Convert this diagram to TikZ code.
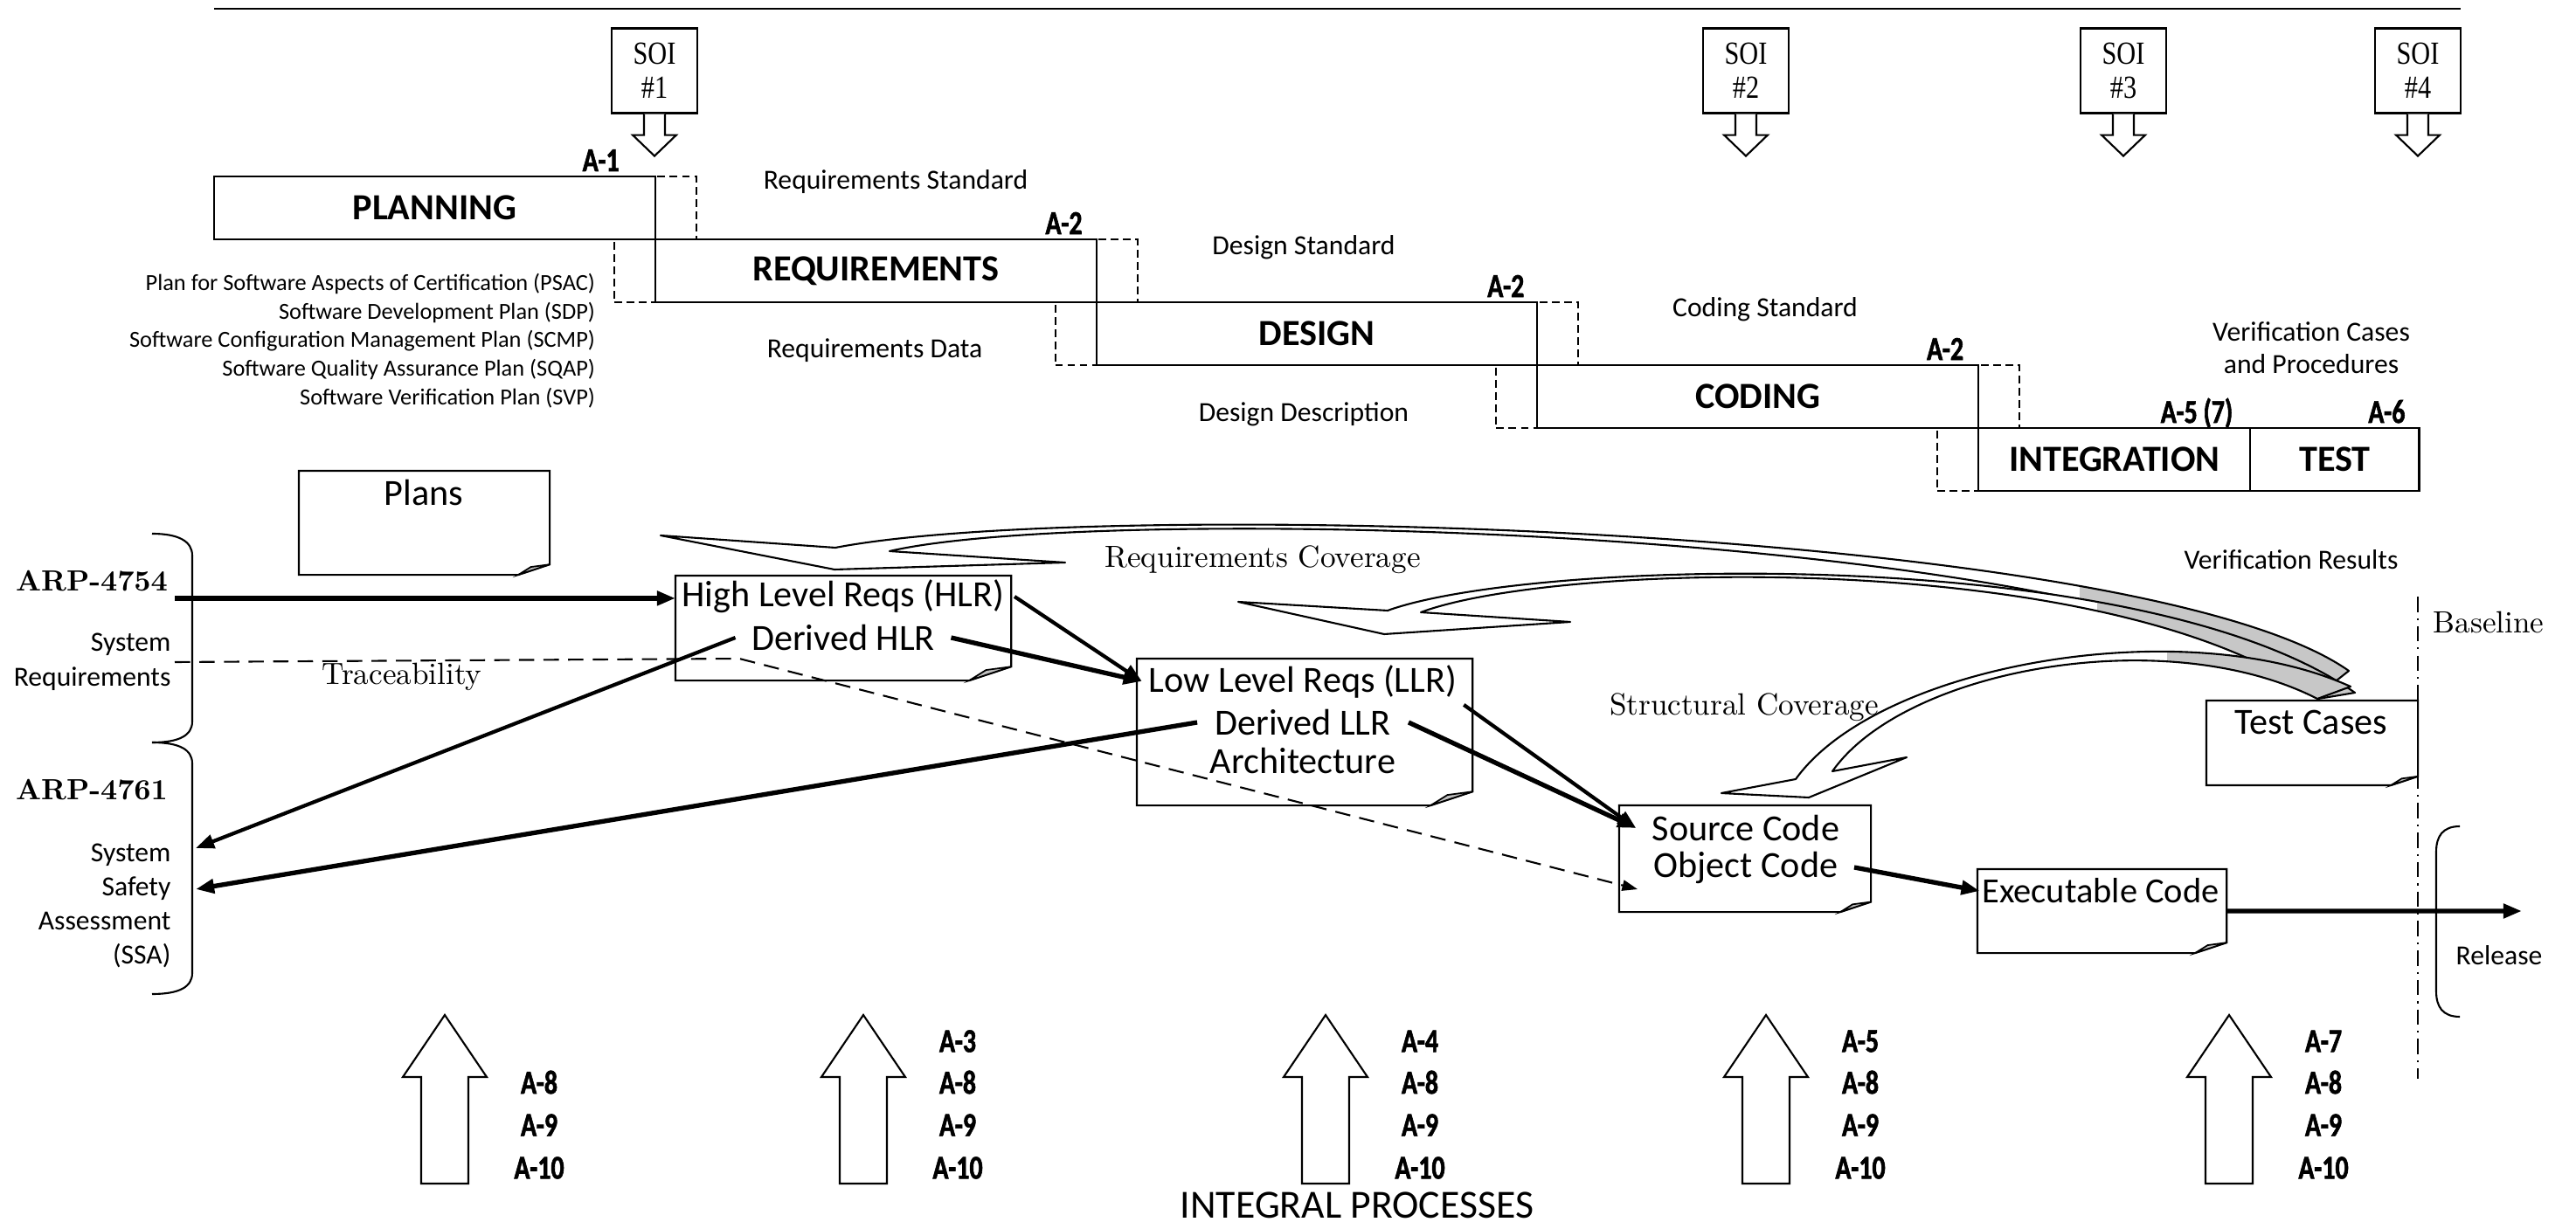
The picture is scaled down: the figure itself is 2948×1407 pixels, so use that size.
\documentclass[tikz,border=0pt]{standalone}
\usepackage{fontspec}
\setsansfont{Carlito}
\renewcommand{\familydefault}{\sfdefault}
\newfontfamily\alabelfont{Carlito}[FakeStretch=0.78,FakeBold=1.5]
\newfontfamily\soifont{Liberation Serif}[FakeStretch=0.82]
\usetikzlibrary{arrows.meta, positioning, calc}

\tikzset{%
	phase/.style={
		draw,
		minimum width=5.045cm,
		minimum height=0.72cm,
		inner sep=0pt, outer sep=0pt,
		font=\fontsize{12}{14}\selectfont\bfseries
	},
	stub/.style={
		draw, dash pattern=on 2.5pt off 1.5pt,
		minimum width=0.47cm,
		minimum height=0.72cm,
		inner sep=0pt, outer sep=0pt
	},
	alabel/.style={inner sep=0pt, font=\alabelfont\fontsize{10.9}{13}\selectfont\bfseries},
	soibox/.style={
		draw, fill=white,
		minimum width=0.98cm,
		minimum height=0.97cm,
		inner sep=0pt, align=center,
		font=\soifont\fontsize{10.5}{11}\selectfont
	},
	note/.style={inner sep=1pt, font=\fontsize{9}{10.5}\selectfont},
	serif/.style={inner sep=1pt, font=\rmfamily\fontsize{10}{12}\selectfont},
	doc/.style={anchor=north west, inner sep=0pt, outer sep=0pt},
	doctext/.style={inner sep=1pt, font=\fontsize{12}{14}\selectfont},
	arr/.style={line width=1.2pt, -{Triangle[length=6pt, width=4.5pt]}},
	thickarr/.style={arr, line width=1.5pt},
	trace/.style={line width=0.6pt, dash pattern=on 5pt off 3pt, -{Triangle[length=5pt, width=3.5pt]}},
	dashdot rule/.style={line width=0.5pt, dash pattern=on 5pt off 2pt on 0.6pt off 2pt},
}

% document with a curled corner, drawn round a named node
\newcommand\pagecurl[2]{%
	\draw (#1.south west) -- (#1.north west) -- (#1.north east)
		-- ($(#1.south east)+(0,-0.33*#2)$) -- ($(#1.south east)+(-#2,0)$) -- cycle;
	\draw[line width=0.5pt, fill=black!25] ($(#1.south east)+(-#2,0)$)
		-- ($(#1.south east)+(-0.6*#2,-0.25*#2)$) -- ($(#1.south east)+(0,-0.33*#2)$) -- cycle;
}

% curved block arrow, grey towards its tail
\newcommand\coverarrow[2]{%
	\fill[white] #1;
	\begin{scope}
		\clip (#2,560) rectangle (2800,830);
		\fill[black!22] #1;
	\end{scope}
	\draw[line join=round] #1;
}

\begin{document}
\begin{tikzpicture}[x=0.01cm, y=-0.01cm, line width=0.6pt]
	\useasboundingbox (0,0) rectangle (2948,1407);
	
	% top rule
	\draw[line width=0.8pt] (245,10) -- (2816,10);
	
	% life cycle phases
	\node[phase, anchor=north west] (planning) at (245,202) {PLANNING};
	\node[phase, anchor=north west] (requirements) at (planning.south east) {REQUIREMENTS};
	\node[phase, anchor=north west] (design) at (requirements.south east) {DESIGN};
	\node[phase, anchor=north west] (coding) at (design.south east) {CODING};
	\node[phase, anchor=north west, minimum width=3.11cm] (integration) at (coding.south east) {INTEGRATION};
	\node[phase, minimum width=1.93cm, right=0cm of integration] (test) {TEST};
	
	% dashed overlaps
	\node[stub, anchor=north west] (planR) at (planning.north east) {};
	\node[stub, anchor=north east] (reqL) at (requirements.north west) {};
	\node[stub, anchor=north west] (reqR) at (requirements.north east) {};
	\node[stub, anchor=north east] (desL) at (design.north west) {};
	\node[stub, anchor=north west] (desR) at (design.north east) {};
	\node[stub, anchor=north east] (codL) at (coding.north west) {};
	\node[stub, anchor=north west] (codR) at (coding.north east) {};
	\node[stub, anchor=north east] (intL) at (integration.north west) {};
	
	% objectives tables
	\node[alabel, anchor=base east] (a1) at ([xshift=-0.40cm, yshift=0.06cm]planning.north east) {A-1};
	\node[alabel, anchor=base east] (a2req) at ([xshift=-0.15cm, yshift=0.06cm]requirements.north east) {A-2};
	\node[alabel, anchor=base east] (a2des) at ([xshift=-0.14cm, yshift=0.06cm]design.north east) {A-2};
	\node[alabel, anchor=base east] (a2cod) at ([xshift=-0.16cm, yshift=0.06cm]coding.north east) {A-2};
	\node[alabel, anchor=base east] (a5int) at ([xshift=-0.19cm, yshift=0.06cm]integration.north east) {A-5 (7)};
	\node[alabel, anchor=base east] (a6test) at ([xshift=-0.15cm, yshift=0.06cm]test.north east) {A-6};
	
	% stages of involvement
	\node[soibox] (soi1) at (749,81) {SOI\\\#1};
	\node[soibox] (soi2) at (1998,81) {SOI\\\#2};
	\node[soibox] (soi3) at (2430,81) {SOI\\\#3};
	\node[soibox] (soi4) at (2767,81) {SOI\\\#4};
	\foreach \s in {soi1,soi2,soi3,soi4}
		\draw[fill=white] ($(\s.south)+(-12,0)$) -- ($(\s.south)+(-12,24)$) -- ($(\s.south)+(-25,24)$)
			-- ($(\s.south)+(0,48)$) -- ($(\s.south)+(25,24)$) -- ($(\s.south)+(12,24)$) -- ($(\s.south)+(12,0)$);
	
	% phase outputs
	\node[note] (reqstd) at (1025,208) {Requirements Standard};
	\node[note] (reqdata) at (1001,401) {Requirements Data};
	\node[note] (desstd) at (1492,283) {Design Standard};
	\node[note] (desdesc) at (1492,474) {Design Description};
	\node[note] (codstd) at (2020,354) {Coding Standard};
	\node[note, align=center] (vercases) at (2645,398) {Verification Cases\\and Procedures};
	\node[align=right, anchor=east, inner sep=0pt, font=\fontsize{7.5}{9.3}\selectfont] (planlist) at (682,390)
		{Plan for Software Aspects of Certification (PSAC)\\Software Development Plan (SDP)\\Software Configuration Management Plan (SCMP)\\Software Quality Assurance Plan (SQAP)\\Software Verification Plan (SVP)};
	
	% system side
	\node[anchor=east, inner sep=2pt, font=\rmfamily\bfseries\fontsize{9.5}{11}\selectfont] (arp4754) at (200,665) {ARP-4754};
	\node[note, align=right, anchor=east, font=\fontsize{9}{11.3}\selectfont] (sysreq) at (200,758) {System\\Requirements};
	\node[anchor=east, inner sep=2pt, font=\rmfamily\bfseries\fontsize{9.5}{11}\selectfont] (arp4761) at (200,904) {ARP-4761};
	\node[note, align=right, anchor=east, font=\fontsize{9}{11.1}\selectfont] (ssa) at (200,1037) {System\\Safety\\Assessment\\(SSA)};
	\draw (174,611) .. controls (205,611) and (220,620) .. (220,636) -- (220,826) .. controls (220,842) and (205,850) .. (174,850);
	\draw (174,850) .. controls (205,850) and (220,858) .. (220,874) -- (220,1114) .. controls (220,1130) and (205,1138) .. (174,1138);
	\coordinate (ssaA) at (224,971);
	\coordinate (ssaB) at (224,1018);
	
	% life cycle data
	\node[doc, minimum width=2.87cm, minimum height=1.19cm] (plans) at (342,539) {};
	\node[doctext] (plans1) at (485,564) {Plans};
	\pagecurl{plans}{36}
	
	\node[doc, minimum width=3.84cm, minimum height=1.20cm] (hlr) at (773,659) {};
	\node[doctext, inner sep=3pt] (hlr1) at (965,683) {High Level Reqs (HLR)};
	\node[doctext, inner sep=5pt] (hlr2) at (965,730) {Derived HLR};
	\pagecurl{hlr}{48}
	
	\node[doc, minimum width=3.84cm, minimum height=1.68cm] (llr) at (1301,754) {};
	\node[doctext, inner sep=2pt] (llr1) at (1491,780) {Low Level Reqs (LLR)};
	\node[doctext, inner sep=5.5pt] (llr2) at (1491,827) {Derived LLR};
	\node[doctext] (llr3) at (1491,871) {Architecture};
	\pagecurl{llr}{48}
	
	\node[doc, minimum width=2.88cm, minimum height=1.22cm] (src) at (1853,922) {};
	\node[doctext, inner sep=5pt] (src1) at (1998,948) {Source Code};
	\node[doctext, inner sep=5pt] (src2) at (1998,993) {Object Code};
	\pagecurl{src}{35}
	
	\node[doc, minimum width=2.85cm, minimum height=0.96cm] (exe) at (2263,995) {};
	\node[doctext, inner sep=0.5pt, font=\fontsize{11.5}{13}\selectfont] (exe1) at (2404,1020) {Executable Code};
	\pagecurl{exe}{36}
	
	\node[doc, minimum width=2.42cm, minimum height=0.97cm] (tc) at (2525,802) {};
	\node[doctext] (tc1) at (2645,827) {Test Cases};
	\pagecurl{tc}{31}
	
	% baseline and release
	\draw[dashdot rule] (2767,683) -- (2767,1235);
	\node[serif] (baselbl) at (2848,712) {Baseline};
	\node[note] (releaselbl) at (2860,1094) {Release};
	\draw (2815,946) .. controls (2795,946) and (2788,958) .. (2788,975) -- (2788,1135) .. controls (2788,1152) and (2795,1164) .. (2815,1164);
	\coordinate (release) at (2886,1043);
	
	% development flow
	\draw[thickarr] (arp4754.south east) -- (arp4754.south east -| hlr.west);
	\draw[arr] (hlr1.east) -- (llr1.west);
	\draw[thickarr] (hlr2.east) -- (llr1.west);
	\draw[arr] (hlr2.west) -- (ssaA);
	\draw[thickarr] (llr2.west) -- (ssaB);
	\draw[arr] (llr1.south east) -- (src1.west);
	\draw[thickarr] (llr2.east) -- (src1.west);
	\draw[thickarr] (src2.east) -- (exe1.west);
	\draw[thickarr] (exe.east) -- (release);
	
	% traceability
	\coordinate (tbend) at (846,754);
	\draw[trace] (sysreq.east) -- (tbend) -- ([yshift=-0.25cm]src2.west);
	\node[serif] (tracelbl) at (460,775) {Traceability};
	
	% verification feedback
	\coverarrow{(756,613) -- (956,627) .. controls (1250,570) and (2450,600) .. (2688,768) -- (2660,790) .. controls (2420,603) and (1260,575) .. (1018,631) -- (1219,644) -- (955,652) -- cycle}{2380}
	\coverarrow{(1417,689) -- (1588,699) .. controls (1750,640) and (2450,620) .. (2695,793) -- (2653,800) .. controls (2420,626) and (1780,643) .. (1626,701) -- (1797,712) -- (1584,726) -- cycle}{2400}
	\coverarrow{(1970,908) -- (2055,892) .. controls (2150,760) and (2500,700) .. (2690,786) -- (2652,800) .. controls (2480,712) and (2180,765) .. (2097,883) -- (2182,867) -- (2070,913) -- cycle}{2480}
	\node[serif] (reqcov) at (1445,641) {Requirements Coverage};
	\node[serif] (strcov) at (1996,810) {Structural Coverage};
	\node[note] (verres) at (2622,641) {Verification Results};
	
	% integral processes
	\foreach \x [count=\i] in {509,988,1517,2021,2551} {
		\draw[fill=white] (\x-27,1355) -- (\x-27,1233) -- (\x-48,1233) -- (\x,1162) -- (\x+48,1233) -- (\x+27,1233) -- (\x+27,1355) -- cycle;
		\node[alabel] (ip\i-8) at (\x+108,1239) {A-8};
		\node[alabel] (ip\i-9) at (\x+108,1288) {A-9};
		\node[alabel] (ip\i-10) at (\x+108,1337) {A-10};
	}
	\foreach \x/\a [count=\i from 2] in {988/A-3,1517/A-4,2021/A-5,2551/A-7}
		\node[alabel] (ip\i-top) at (\x+108,1192) {\a};
	\node[font=\fontsize{13}{15}\selectfont, inner sep=1pt] (integral) at (1553,1380) {INTEGRAL PROCESSES};
\end{tikzpicture}
\end{document}
